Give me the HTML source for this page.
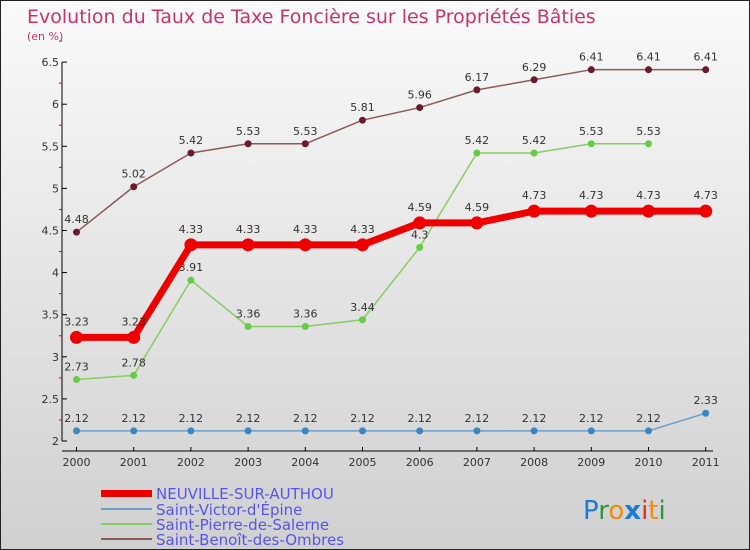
<!DOCTYPE html>
<html><head><meta charset="utf-8"><style>
body{margin:0}
#c{width:748px;height:548px;border:1px solid #222;background:linear-gradient(#fafafa,#d0d0d0);position:relative;overflow:hidden;font-family:"DejaVu Sans","Liberation Sans",sans-serif}
svg{position:absolute;left:0;top:0}
</style></head><body>
<div id="c">
<svg id="s" width="750" height="550">
<text x="26" y="22" font-size="19" fill="#c8336a">Evolution du Taux de Taxe Foncière sur les Propriétés Bâties</text>
<text x="26" y="39" font-size="11" fill="#c8336a">(en %)</text>
<g id="axes"></g><g id="series"></g>
<g font-size="15" fill="#5555ee">
<rect x="100" y="489" width="51" height="7" fill="#e00"/>
<text x="155" y="498">NEUVILLE-SUR-AUTHOU</text>
<rect x="100" y="507" width="51" height="2" fill="#6aa0c8"/>
<text x="155" y="514">Saint-Victor-d'Épine</text>
<rect x="100" y="522" width="51" height="2" fill="#88cc66"/>
<text x="155" y="529">Saint-Pierre-de-Salerne</text>
<rect x="100" y="537" width="51" height="2" fill="#8a5a5a"/>
<text x="155" y="544">Saint-Benoît-des-Ombres</text>
</g>
<text x="582" y="518" font-size="26" font-family="DejaVu Sans"><tspan fill="#1a7ad4">P</tspan><tspan fill="#2a9a3a">r</tspan><tspan fill="#f08a10">o</tspan><tspan fill="#1a7ad4" font-weight="bold">x</tspan><tspan fill="#e03020">i</tspan><tspan fill="#f08a10">t</tspan><tspan fill="#2a9a3a">i</tspan></text>
</svg></div>
<script>
const years=[2000,2001,2002,2003,2004,2005,2006,2007,2008,2009,2010,2011];
const yTicks=[2,2.5,3,3.5,4,4.5,5,5.5,6,6.5];
const neuville=[3.23,3.23,4.33,4.33,4.33,4.33,4.59,4.59,4.73,4.73,4.73,4.73];
const victor=[2.12,2.12,2.12,2.12,2.12,2.12,2.12,2.12,2.12,2.12,2.12,2.33];
const pierre=[2.73,2.78,3.91,3.36,3.36,3.44,4.3,5.42,5.42,5.53,5.53,null];
const benoit=[4.48,5.02,5.42,5.53,5.53,5.81,5.96,6.17,6.29,6.41,6.41,6.41];
const NS="http://www.w3.org/2000/svg";
const X=i=>75.5+i*57.2, Y=v=>440-(v-2)*84.2;
function mk(t,a,p){const e=document.createElementNS(NS,t);for(const k in a)e.setAttribute(k,a[k]);p.appendChild(e);return e;}
const ax=document.getElementById('axes'),sg=document.getElementById('series');
const yl=mk('line',{x1:61,y1:Y(6.5),x2:61,y2:Y(2),stroke:'#000'},ax);


const xl=mk('line',{x1:61,y1:450,x2:712,y2:450,stroke:'#000'},ax);


yTicks.forEach(v=>{
  mk('line',{x1:61,y1:Y(v),x2:66,y2:Y(v),stroke:'#000'},ax);
  mk('line',{x1:58,y1:Y(v+0.25),x2:61,y2:Y(v+0.25),stroke:'#d00'},ax);
  const t=mk('text',{x:58,y:Y(v)+4,'text-anchor':'end','font-size':11,fill:'#333'},ax);t.textContent=v;
  
  
});
years.forEach((y,i)=>{
  mk('line',{x1:X(i),y1:450,x2:X(i),y2:446,stroke:'#000'},ax);
  const t=mk('text',{x:X(i),y:465,'text-anchor':'middle','font-size':11,fill:'#333'},ax);t.textContent=y;
  
  
});
function series(d,col,w,r,name,dot){
  const pts=d.map((v,i)=>v==null?null:[X(i),Y(v)]).filter(p=>p);
  const p=mk('polyline',{points:pts.map(p=>p.join(',')).join(' '),fill:'none',stroke:col,'stroke-width':w,'stroke-linejoin':'round'},sg);
  
  
  d.forEach((v,i)=>{if(v==null)return;
    const c=mk('circle',{cx:X(i),cy:Y(v),r:r,fill:dot},sg);
    
    
    const t=mk('text',{x:X(i),y:Y(v)-9-(r>4?3:0),'text-anchor':'middle','font-size':11,fill:'#333'},sg);t.textContent=v;
    
    
  });
}
series(victor,'#6aa0c8',1.5,3.5,'saint-victor','#3a86c0');
series(pierre,'#88cc66',1.5,3.5,'saint-pierre','#66cc44');
series(benoit,'#8a5a5a',1.5,3.5,'saint-benoit','#6a1a2a');
series(neuville,'#ee0000',7,6.5,'neuville','#ee0000');
</script></body></html>
